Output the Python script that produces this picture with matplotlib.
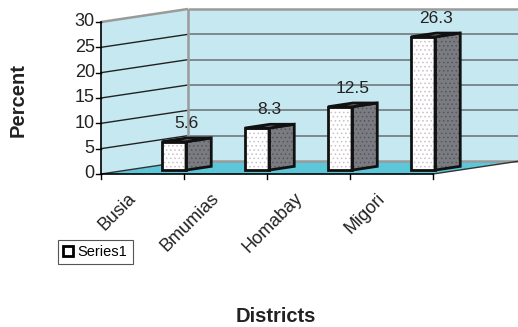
import matplotlib
matplotlib.use("Agg")
import matplotlib.pyplot as plt
from matplotlib.patches import Polygon, Patch
from matplotlib.transforms import offset_copy

plt.rcParams['font.family'] = ['Liberation Sans', 'DejaVu Sans']

districts = ["Busia", "Bmumias", "Homabay", "Migori"]
percent = [5.6, 8.3, 12.5, 26.3]
yticks = [0, 5, 10, 15, 20, 25, 30]
series_name = "Series1"

W, H = 518, 327
fig = plt.figure(figsize=(W / 100, H / 100), dpi=100)
ax = fig.add_axes([101 / W, 153 / H, 332 / W, 152 / H])
ax.set_xlim(0, 4)
ax.set_ylim(0, 30)
ax.axis('off')

DX, DY = 1.048, 2.566          # full depth offset in data units
WALL = '#c6e8f0'
FLOOR = '#5cc7d8'
EDGE = '#9a9a9a'
YMAX = 30
NC = len(districts)

def P(x, y, f):
    return (x + f * DX, y + f * DY)

# walls and floor
ax.add_patch(Polygon([P(0, 0, 0), P(0, 0, 1), P(0, YMAX, 1), P(0, YMAX, 0)],
                     closed=True, facecolor=WALL, edgecolor='none', clip_on=False, zorder=1))
ax.add_patch(Polygon([P(0, 0, 1), P(NC, 0, 1), P(NC, YMAX, 1), P(0, YMAX, 1)],
                     closed=True, facecolor=WALL, edgecolor='none', clip_on=False, zorder=1))
ax.add_patch(Polygon([P(0, 0, 0), P(NC, 0, 0), P(NC, 0, 1), P(0, 0, 1)],
                     closed=True, facecolor=FLOOR, edgecolor='none', clip_on=False, zorder=1))

# gridlines
for v in yticks[1:-1]:
    ax.plot([P(0, v, 0)[0], P(0, v, 1)[0]], [P(0, v, 0)[1], P(0, v, 1)[1]],
            color='#222222', lw=1.0, clip_on=False, zorder=2)
    ax.plot([P(0, v, 1)[0], P(NC, v, 1)[0]], [P(0, v, 1)[1], P(NC, v, 1)[1]],
            color='#707a7e', lw=1.2, clip_on=False, zorder=2)

# wall edges
for seg in [[P(0, YMAX, 0), P(0, YMAX, 1)], [P(0, YMAX, 1), P(NC, YMAX, 1)],
            [P(0, 0, 1), P(0, YMAX, 1)], [P(0, 0, 1), P(NC, 0, 1)],
            [P(NC, 0, 1), P(NC, YMAX, 1)]]:
    ax.plot([seg[0][0], seg[1][0]], [seg[0][1], seg[1][1]], color=EDGE, lw=1.8,
            clip_on=False, zorder=2, solid_capstyle='butt')
ax.plot([P(0, 0, 0)[0], P(0, 0, 1)[0]], [P(0, 0, 0)[1], P(0, 0, 1)[1]],
        color='#333333', lw=1.0, clip_on=False, zorder=2)
ax.plot([P(NC, 0, 0)[0], P(NC, 0, 1)[0]], [P(NC, 0, 0)[1], P(NC, 0, 1)[1]],
        color='#333333', lw=1.0, clip_on=False, zorder=2)

# bars
bw = 0.29
f0, f1 = 0.30, 0.59
xs = [i + 0.42 for i in range(NC)]
fx = [x + f0 * DX for x in xs]
plt.rcParams['hatch.linewidth'] = 0.6
ax.bar(fx, percent, width=bw, bottom=f0 * DY, align='edge', color='white',
       edgecolor='#c8c0c8', linewidth=0, hatch='....', zorder=4, clip_on=False)
ax.bar(fx, percent, width=bw, bottom=f0 * DY, align='edge', color='none',
       edgecolor='#111111', linewidth=2.0, zorder=6, clip_on=False)
for x, v in zip(xs, percent):
    side = [P(x + bw, 0, f0), P(x + bw, 0, f1), P(x + bw, v, f1), P(x + bw, v, f0)]
    top = [P(x, v, f0), P(x + bw, v, f0), P(x + bw, v, f1), P(x, v, f1)]
    ax.add_patch(Polygon(side, closed=True, facecolor='#7b7b82', edgecolor='#55555a',
                         lw=0, hatch='....', clip_on=False, zorder=4))
    ax.add_patch(Polygon(side, closed=True, facecolor='none', edgecolor='#111111',
                         lw=2.0, clip_on=False, zorder=6, joinstyle='miter'))
    ax.add_patch(Polygon(top, closed=True, facecolor='#8a8a90', edgecolor='#111111',
                         lw=2.0, clip_on=False, zorder=6, joinstyle='miter'))
    cx = x + (bw + (f1 - f0) * DX) / 2 + f0 * DX
    ax.annotate(f"{v}", (cx, v + f1 * DY), xytext=(0, 5), textcoords='offset points',
                ha='center', va='bottom', fontsize=12.5, color='#222222', zorder=7,
                annotation_clip=False)

# axes lines and ticks
ax.plot([0, 0], [0, YMAX], color='black', lw=1.2, clip_on=False, zorder=3)
ax.plot([0, NC], [0, 0], color='black', lw=1.2, clip_on=False, zorder=3)
tick_len = 5 / 83
for v in yticks:
    ax.plot([-tick_len, 0], [v, v], color='black', lw=1.0, clip_on=False, zorder=3)
    ax.text(-0.075, v, str(v), ha='right', va='center', fontsize=13, color='#222222')
for i in range(NC + 1):
    ax.plot([i, i], [0, -5 / 5.067], color='black', lw=1.0, clip_on=False, zorder=3)

for i, name in enumerate(districts):
    tr = offset_copy(ax.transData, fig=fig, x=-15 * 0.72, y=-16 * 0.72, units='points')
    ax.text(i + 0.5, 0, name, rotation=45, ha='right', va='top',
            rotation_mode='anchor', fontsize=13, color='#222222', transform=tr)

fig.text(18 / W, 1 - 100 / H, "Percent", rotation=90, ha='center', va='center',
         fontsize=14.5, fontweight='bold', color='#222222')
fig.text(276 / W, 1 - 317 / H, "Districts", ha='center', va='center',
         fontsize=14.5, fontweight='bold', color='#222222')

handle = Patch(facecolor='white', edgecolor='black', linewidth=2.0)
leg = fig.legend([handle], [series_name], loc='upper left',
                 bbox_to_anchor=(58 / W, 1 - 240 / H), fancybox=False, shadow=False,
                 fontsize=10.5, handlelength=0.7, handleheight=0.7, handletextpad=0.3,
                 borderpad=0.35, borderaxespad=0, framealpha=1)
leg.get_frame().set_edgecolor('#555555')
leg.get_frame().set_linewidth(0.8)

fig.savefig("out.png", dpi=100)
